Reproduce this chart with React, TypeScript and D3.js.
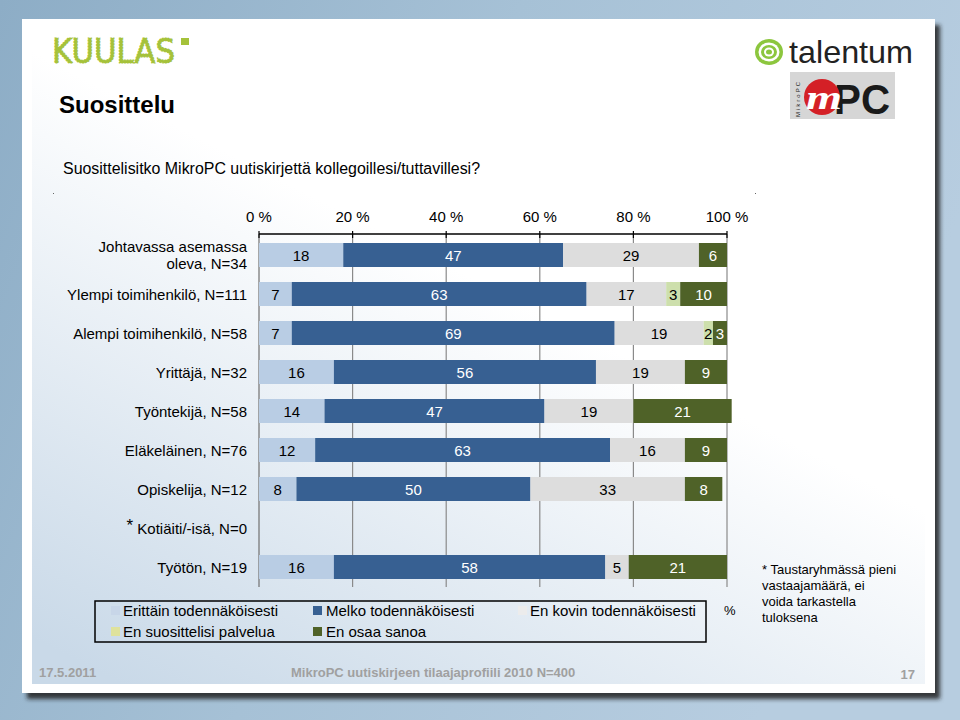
import React from "react";
import * as d3 from "d3";

const categories = [
  "Johtavassa asemassa\noleva, N=34",
  "Ylempi toimihenkilö, N=111",
  "Alempi toimihenkilö, N=58",
  "Yrittäjä, N=32",
  "Työntekijä, N=58",
  "Eläkeläinen, N=76",
  "Opiskelija, N=12",
  "* Kotiäiti/-isä, N=0",
  "Työtön, N=19",
];

const seriesNames = [
  "Erittäin todennäköisesti",
  "Melko todennäköisesti",
  "En kovin todennäköisesti",
  "En suosittelisi palvelua",
  "En osaa sanoa",
];

const erittain = [18, 7, 7, 16, 14, 12, 8, 0, 16];
const melko = [47, 63, 69, 56, 47, 63, 50, 0, 58];
const enKovin = [29, 17, 19, 19, 19, 16, 33, 0, 5];
const enSuosittelisi = [0, 3, 2, 0, 0, 0, 0, 0, 0];
const enOsaa = [6, 10, 3, 9, 21, 9, 8, 0, 21];

const seriesValues = [erittain, melko, enKovin, enSuosittelisi, enOsaa];
const barColors = ["#b9cde4", "#376092", "#dddddd", "#cddfac", "#4f6228"];
const legendColors = ["#c8d6e8", "#376092", "#ececec", "#dfe29c", "#4f6228"];
const labelColors = ["#000", "#fff", "#000", "#000", "#fff"];

const xTicks = [0, 20, 40, 60, 80, 100];

const FONT = "'Liberation Sans', Arial, sans-serif";

export default function App() {
  const x = d3.scaleLinear().domain([0, 100]).range([259, 727]);
  const y = d3
    .scaleBand<string>()
    .domain(categories)
    .range([235.5, 586.5])
    .paddingInner(0.385)
    .paddingOuter(0.1925);
  const bw = y.bandwidth();

  const rows = categories.map((c, i) => {
    const vals = seriesValues.map((s) => s[i]);
    const cum = d3.cumsum(vals);
    return vals.map((v, k) => ({ v, k, x0: cum[k] - v, x1: cum[k], cat: c }));
  });

  const legendItems = [
    { k: 0, mx: 111, tx: 123, ty: 616 },
    { k: 1, mx: 313, tx: 326, ty: 616 },
    { k: 2, mx: 518, tx: 530, ty: 616 },
    { k: 3, mx: 111, tx: 123, ty: 637 },
    { k: 4, mx: 313, tx: 326, ty: 637 },
  ];

  return (
    <svg
      width={960}
      height={720}
      style={{ position: "absolute", left: 0, top: 0, display: "block" }}
      fontFamily={FONT}
    >
      <defs>
        <linearGradient id="bg" x1="0" y1="0" x2="1" y2="0.3">
          <stop offset="0" stopColor="#8dadc6" />
          <stop offset="0.5" stopColor="#a6c1d6" />
          <stop offset="1" stopColor="#b7cde0" />
        </linearGradient>
        <linearGradient id="panel" x1="0.8" y1="0" x2="0.1" y2="1">
          <stop offset="0" stopColor="#ffffff" />
          <stop offset="0.4" stopColor="#ffffff" />
          <stop offset="1" stopColor="#c9d9e8" />
        </linearGradient>
        <filter id="shadow" x="-5%" y="-5%" width="115%" height="115%">
          <feDropShadow dx="5" dy="6" stdDeviation="2" floodColor="#1a1a1a" floodOpacity="0.85" />
        </filter>
      </defs>
      <rect x={0} y={0} width={960} height={720} fill="url(#bg)" />
      <rect x={22} y={19} width={913} height={674} fill="#fff" filter="url(#shadow)" />
      <rect x={32} y={28} width={893} height={656} fill="url(#panel)" />

      {/* KUULAS logo */}
      <text
        x={52}
        y={63}
        fontFamily="'DejaVu Sans', sans-serif"
        fontSize={33}
        fill="#a5c23a"
        stroke="#a5c23a"
        strokeWidth={1.2}
        strokeDasharray="2 1"
        textLength={123}
        lengthAdjust="spacingAndGlyphs"
      >
        KUULAS
      </text>
      <rect x={181} y={38} width={8} height={7} fill="#a5c23a" />

      {/* talentum logo */}
      <ellipse cx={769} cy={52} rx={14} ry={13} fill="#8cc63e" />
      <ellipse cx={769} cy={52} rx={10.5} ry={9.5} fill="#fff" />
      <ellipse cx={769} cy={52} rx={8} ry={7} fill="#8cc63e" />
      <ellipse cx={769} cy={52} rx={5} ry={4.5} fill="#fff" />
      <ellipse cx={769} cy={52} rx={3} ry={2.5} fill="#8cc63e" />
      <text x={789} y={63} fontSize={32} fill="#222" textLength={124} lengthAdjust="spacingAndGlyphs">
        talentum
      </text>
      {/* MikroPC logo */}
      <rect x={790} y={72} width={105} height={47} fill="#d6d6d6" />
      <text
        transform="translate(800,117) rotate(-90)"
        fontSize={6}
        fill="#222"
        letterSpacing={2}
      >
        MikroPC
      </text>
      <text x={834} y={114} fontSize={42} fontWeight="bold" fill="#1a1a1a" textLength={56} lengthAdjust="spacingAndGlyphs">
        PC
      </text>
      <circle cx={822} cy={97} r={18} fill="#d42026" />
      <text
        x={806}
        y={109}
        fontSize={34}
        fontWeight="bold"
        fontStyle="italic"
        fontFamily="'Liberation Serif', serif"
        fill="#fff"
        textLength={36}
        lengthAdjust="spacingAndGlyphs"
      >
        m
      </text>

      {/* Titles */}
      <text x={59} y={113} fontSize={24} fontWeight="bold" fill="#000">
        Suosittelu
      </text>
      <text x={63} y={174} fontSize={16} fill="#000" textLength={417} lengthAdjust="spacingAndGlyphs">
        Suosittelisitko MikroPC uutiskirjettä kollegoillesi/tuttavillesi?
      </text>
      <rect x={53} y={193} width={1} height={1} fill="#666" />
      <rect x={755} y={193} width={1} height={1} fill="#666" />

      {/* gridlines */}
      {xTicks.map((t) => (
        <line
          key={"g" + t}
          x1={x(t)}
          x2={x(t)}
          y1={234}
          y2={587}
          stroke={t === 0 ? "#707070" : "#8a8a8a"}
          strokeWidth={1.2}
        />
      ))}

      {/* bars */}
      {rows.map((segs, i) =>
        segs
          .filter((s) => s.v > 0)
          .map((s) => (
            <rect
              key={`b${i}-${s.k}`}
              x={x(s.x0)}
              y={y(s.cat)!}
              width={x(s.x1) - x(s.x0)}
              height={bw}
              fill={barColors[s.k]}
            />
          ))
      )}
      {rows.map((segs, i) =>
        segs
          .filter((s) => s.v > 0)
          .map((s) => (
            <text
              key={`l${i}-${s.k}`}
              x={(x(s.x0) + x(s.x1)) / 2}
              y={y(s.cat)! + bw / 2 + 5.5}
              textAnchor="middle"
              fontSize={15}
              fill={labelColors[s.k]}
            >
              {s.v}
            </text>
          ))
      )}

      {/* top axis */}
      <line x1={x(0)} x2={x(100)} y1={234} y2={234} stroke="#000" strokeWidth={1.5} />
      {xTicks.map((t) => (
        <g key={"t" + t}>
          <line x1={x(t)} x2={x(t)} y1={231} y2={238} stroke="#000" strokeWidth={1.2} />
          <text x={x(t)} y={222} textAnchor="middle" fontSize={15} fill="#000">
            {t} %
          </text>
        </g>
      ))}

      {/* category labels */}
      {categories.map((c) => {
        const cy = y(c)! + bw / 2;
        const lines = c.split("\n");
        if (c.startsWith("* ")) {
          return (
            <text key={c} x={247} y={cy + 5.5} textAnchor="end" fontSize={15} fill="#000">
              <tspan fontSize={17} dy={-3}>*</tspan>
              <tspan dy={3}> {c.slice(2)}</tspan>
            </text>
          );
        }
        return (
          <text key={c} x={247} textAnchor="end" fontSize={15} fill="#000">
            {lines.map((l, j) => (
              <tspan key={j} x={247} y={cy + 5.5 + (j - (lines.length - 1) / 2) * 17}>
                {l}
              </tspan>
            ))}
          </text>
        );
      })}

      {/* legend */}
      <rect x={95} y={601} width={611} height={41} fill="none" stroke="#000" strokeWidth={1.5} />
      {legendItems.map((it) => (
        <g key={"lg" + it.k}>
          <rect x={it.mx} y={it.ty - 10} width={9} height={9} fill={legendColors[it.k]} />
          <text x={it.tx} y={it.ty} fontSize={15} fill="#000">
            {seriesNames[it.k]}
          </text>
        </g>
      ))}
      <text x={724} y={615} fontSize={13} fill="#000">
        %
      </text>

      {/* note */}
      {["* Taustaryhmässä pieni", "vastaajamäärä, ei", "voida tarkastella", "tuloksena"].map((l, j) => (
        <text key={l} x={762} y={574 + j * 16} fontSize={13} fill="#000">
          {l}
        </text>
      ))}

      {/* footer */}
      <text x={39} y={677} fontSize={13} fontWeight="bold" fill="#a0a0a0">
        17.5.2011
      </text>
      <text x={291} y={677} fontSize={13} fontWeight="bold" fill="#a0a0a0">
        MikroPC uutiskirjeen tilaajaprofiili 2010 N=400
      </text>
      <text x={915} y={679} fontSize={13} fontWeight="bold" fill="#a0a0a0" textAnchor="end">
        17
      </text>
    </svg>
  );
}
